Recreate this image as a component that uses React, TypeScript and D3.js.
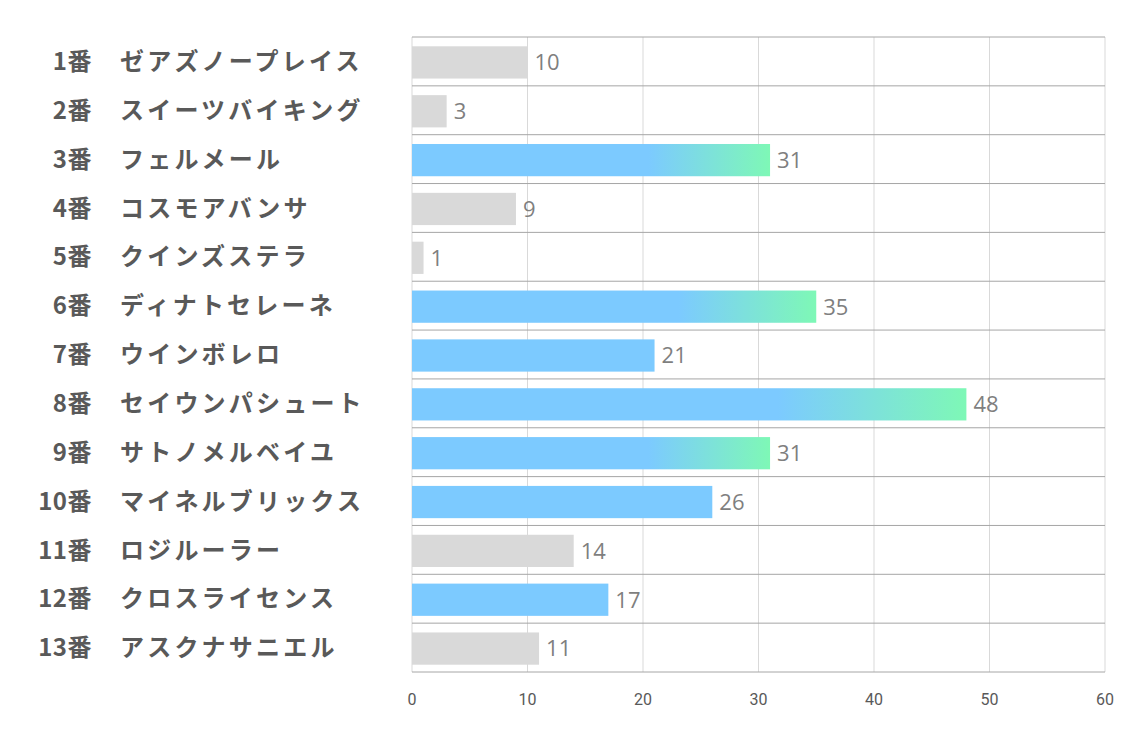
import React from 'react';
import * as d3 from 'd3';

// horse numbers / names / values
const nums = ['1番', '2番', '3番', '4番', '5番', '6番', '7番', '8番', '9番', '10番', '11番', '12番', '13番'];
const names = [
  'ゼアズノープレイス',
  'スイーツバイキング',
  'フェルメール',
  'コスモアバンサ',
  'クインズステラ',
  'ディナトセレーネ',
  'ウインボレロ',
  'セイウンパシュート',
  'サトノメルベイユ',
  'マイネルブリックス',
  'ロジルーラー',
  'クロスライセンス',
  'アスクナサニエル',
];
const values = [10, 3, 31, 9, 1, 35, 21, 48, 31, 26, 14, 17, 11];
const xTicks = [0, 10, 20, 30, 40, 50, 60];

const W = 1134;
const H = 737;
const left = 412;
const right = 1105;
const top = 37;
const bottom = 672;

export default function App() {
  const x = d3.scaleLinear().domain([0, 60]).range([left, right]);
  const y = d3
    .scaleBand<number>()
    .domain(d3.range(values.length))
    .range([top, bottom])
    .paddingInner(0.34)
    .paddingOuter(0.17);
  const step = y.step();
  const jp = '"Noto Sans CJK JP", "Noto Sans", sans-serif';

  const fillFor = (v: number, i: number) => {
    if (v < 15) return '#d9d9d9';
    if (v >= 30) return `url(#grad${i})`;
    return '#7ccaff';
  };

  return (
    <svg width={W} height={H} style={{ display: 'block', position: 'absolute', left: 0, top: 0 }}>
      <defs>
        {values.map((v, i) => (
          <linearGradient key={i} id={`grad${i}`} gradientUnits="objectBoundingBox" x1="0" x2="1" y1="0" y2="0">
            <stop offset="0.66" stopColor="#7ccaff" />
            <stop offset="1" stopColor="#7ef8b6" />
          </linearGradient>
        ))}
      </defs>
      <rect width={W} height={H} fill="#fff" />

      {/* vertical grid */}
      {xTicks.map((t) => (
        <line key={t} x1={x(t)} x2={x(t)} y1={top} y2={bottom} stroke="#d9d9d9" strokeWidth={1} />
      ))}
      {/* row separators */}
      {d3.range(values.length + 1).map((i) => (
        <line
          key={i}
          x1={left}
          x2={right}
          y1={top + i * step}
          y2={top + i * step}
          stroke="#a6a6a6"
          strokeWidth={1}
        />
      ))}

      {values.map((v, i) => {
        const yc = (y(i) as number) + y.bandwidth() / 2;
        return (
          <g key={i}>
            <rect x={x(0)} y={(y(i) as number) + 1} width={x(v) - x(0)} height={y.bandwidth()} fill={fillFor(v, i)} />
            <text
              x={x(v) + 7}
              y={yc + 1}
              dy="0.36em"
              fontFamily='"Open Sans", sans-serif'
              fontSize={22}
              fill="#7f7f7f"
            >
              {v}
            </text>
            <text
              x={92}
              y={yc}
              dy="0.36em"
              textAnchor="end"
              fontFamily={jp}
              fontWeight="bold"
              fontSize={24}
              letterSpacing={0.5}
              fill="#595959"
            >
              {nums[i]}
            </text>
            <text
              x={120}
              y={yc}
              dy="0.36em"
              fontFamily={jp}
              fontWeight="bold"
              fontSize={24}
              letterSpacing={3.2}
              fill="#595959"
            >
              {names[i]}
            </text>
          </g>
        );
      })}

      {xTicks.map((t) => (
        <text
          key={t}
          x={x(t)}
          y={699}
          dy="0.35em"
          textAnchor="middle"
          fontFamily="Roboto, sans-serif"
          fontSize={16}
          fill="#595959"
        >
          {t}
        </text>
      ))}
    </svg>
  );
}
